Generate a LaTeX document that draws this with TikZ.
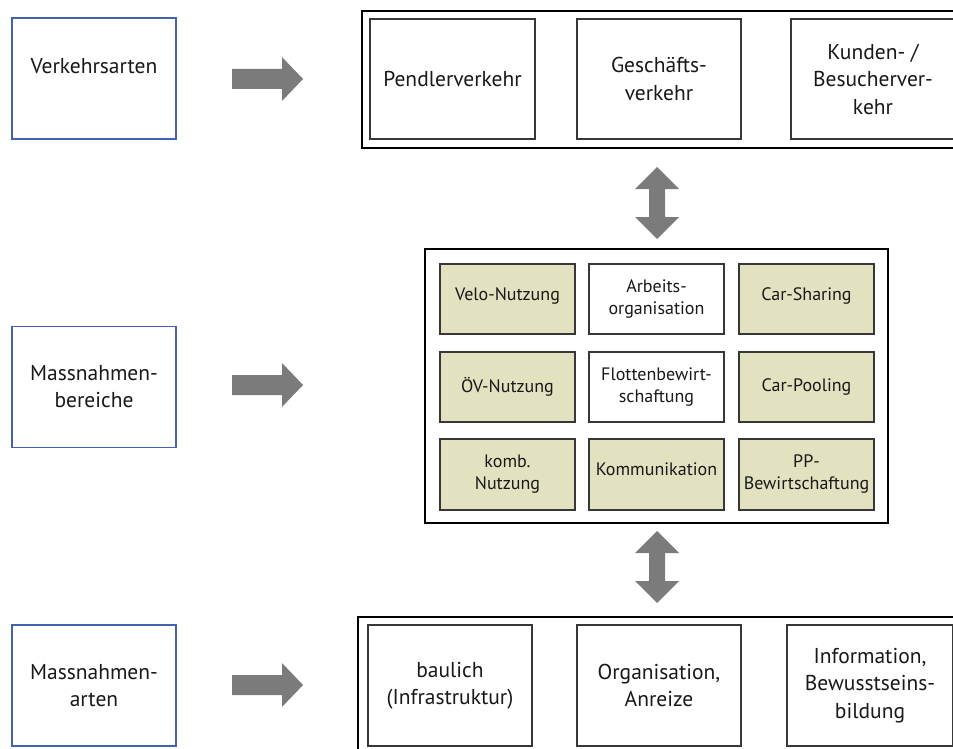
\documentclass[tikz,border=0pt]{standalone}
\usepackage{fontspec}
\setmainfont{PT Sans}
\definecolor{lblue}{RGB}{68,98,178}
\definecolor{boxgray}{RGB}{55,55,55}
\definecolor{olivefill}{RGB}{226,225,192}
\definecolor{arrowgray}{RGB}{123,123,123}
\definecolor{txt}{RGB}{25,25,25}
\begin{document}
\begin{tikzpicture}[x=1pt,y=-1pt,
  every node/.style={text=txt},
  lbox/.style={draw=lblue,line width=1.8pt,fill=white,minimum width=164pt,minimum height=121pt,inner sep=0pt,align=center,font=\fontsize{21.5}{27}\selectfont},
  cont/.style={draw=black,line width=1.5pt,fill=white,inner sep=0pt},
  tbox/.style={draw=boxgray,line width=1.6pt,fill=white,inner sep=0pt,align=center,minimum height=120pt,font=\fontsize{21.5}{27.5}\selectfont},
  mbox/.style={draw=boxgray,line width=1.4pt,inner sep=0pt,align=center,minimum width=135pt,minimum height=70pt,font=\fontsize{18}{22}\selectfont},
  olive/.style={mbox,fill=olivefill},
  wbox/.style={mbox,fill=white},
  ltext/.style={inner sep=0pt,align=center,font=\fontsize{21.5}{27}\selectfont},
  rarrow/.pic={\fill[arrowgray] (0,-10) -- (50,-10) -- (50,-22) -- (71,0) -- (50,22) -- (50,10) -- (0,10) -- cycle;},
  vdarrow/.pic={\fill[arrowgray] (0,-36) -- (22,-14) -- (8,-14) -- (8,14) -- (22,14) -- (0,36) -- (-22,14) -- (-8,14) -- (-8,-14) -- (-22,-14) -- cycle;}
]
\useasboundingbox (0,0) rectangle (953,749);
\clip (0,0) rectangle (953,749);
\fill[white] (0,0) rectangle (953,749);

% left boxes
\node[lbox] (va) at (94,78.5) {};
\node[ltext] (vatext) at (94,66) {Verkehrsarten};
\node[lbox] (mb) at (94,387) {Massnahmen-\\bereiche};
\node[lbox] (ma) at (94,685.5) {Massnahmen-\\arten};

% right arrows
\pic at (232,79) {rarrow};
\pic at (232,385) {rarrow};
\pic at (232,685) {rarrow};

% top container
\node[cont,minimum width=600pt,minimum height=137pt] (top) at (662,79.5) {};
\node[tbox,minimum width=165pt] (pend) at (452.5,79) {Pendlerverkehr};
\node[tbox,minimum width=164pt] (gesch) at (659,79) {Geschäfts-\\verkehr};
\node[tbox,minimum width=164pt] (kund) at (873,79) {Kunden- /\\Besucherver-\\kehr};

% vertical arrows
\pic at (657,203) {vdarrow};
\pic at (657,567) {vdarrow};

% middle container
\node[cont,minimum width=463pt,minimum height=274pt] (mid) at (656.5,386) {};
\node[olive] (velo) at (507.5,299) {Velo-Nutzung\vphantom{g}\rule[-9pt]{0pt}{0pt}};
\node[wbox] (arb) at (656.5,299) {Arbeits-\\organisation};
\node[olive] (cs) at (806.5,299) {Car-Sharing\rule[-9pt]{0pt}{0pt}};
\node[olive] (ov) at (507.5,387) {ÖV-Nutzung};
\node[wbox] (flot) at (656.5,387) {Flottenbewirt-\\schaftung};
\node[olive] (cp) at (806.5,387) {Car-Pooling};
\node[olive,minimum height=71pt] (komb) at (507.5,474.5) {komb.\\Nutzung};
\node[olive,minimum height=71pt] (komm) at (656.5,474.5) {Kommunikation\rule[-10pt]{0pt}{0pt}};
\node[olive,minimum height=71pt] (pp) at (806.5,474.5) {PP-\\Bewirtschaftung};

% bottom container
\node[cont,minimum width=604pt,minimum height=140pt] (bot) at (660,687) {};
\node[tbox,minimum width=164pt,minimum height=121pt] (bau) at (450,685.5) {baulich\\(Infrastruktur)};
\node[tbox,minimum width=164pt,minimum height=121pt] (org) at (659,685.5) {Organisation,\\Anreize};
\node[tbox,minimum width=166pt,minimum height=121pt] (info) at (870,685.5) {Information,\\Bewusstseins-\\bildung};
\end{tikzpicture}
\end{document}
